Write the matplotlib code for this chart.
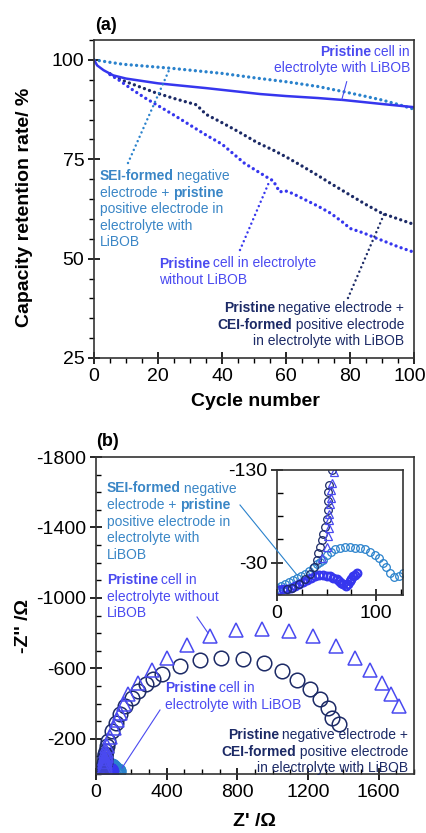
import matplotlib
matplotlib.use("Agg")
import matplotlib.pyplot as plt
from matplotlib.lines import Line2D
from matplotlib.transforms import IdentityTransform, ScaledTranslation
from matplotlib.ticker import FixedLocator, MultipleLocator

plt.rcParams['font.family'] = ['Liberation Sans', 'DejaVu Sans']
plt.rcParams['axes.unicode_minus'] = False

W, H = 427, 833

# ---- (a) capacity retention data ----
cyc_with = [0, 1, 3, 6, 10, 15, 20, 35, 52, 60, 70, 78, 90, 100]
ret_with = [100, 98.6, 97.4, 96.1, 95.3, 94.7, 94.1, 92.9, 91.4, 90.9, 90.4, 89.9, 88.9, 88.1]

cyc_sei = [0, 9, 24, 40, 51, 60, 70, 78, 85, 90, 95, 100]
ret_sei = [100, 98.9, 97.9, 96.6, 95.4, 94.5, 93.3, 92.0, 90.8, 89.9, 88.8, 87.6]

cyc_cei = [5, 7, 10, 14, 19, 25, 32, 35, 40, 45, 51, 56, 60, 65, 70, 74, 80, 85, 90, 95, 100]
ret_cei = [96.5, 95.5, 94.5, 93.3, 91.8, 90.3, 88.7, 86.3, 84.2, 82.0, 79.2, 77.3, 75.6, 73.3,
           70.9, 68.9, 66.0, 63.6, 61.4, 60.0, 58.6]

cyc_without = [5, 8, 12, 16, 20, 25, 30, 35, 40, 47, 52, 55, 56, 58, 60, 62, 65, 70, 74, 78,
               80, 83, 85, 88, 90, 95, 100]
ret_without = [96.3, 94.8, 92.5, 90.4, 88.5, 86.1, 83.6, 81.1, 78.8, 74.0, 71.5, 70.0, 69.6,
               66.8, 67.0, 66.4, 65.2, 63.2, 61.4, 59.0, 57.6, 56.8, 56.2, 55.2, 54.6, 53.0, 51.6]

# ---- (b) Nyquist data (Z', -Z'') ----
zre_cei = [10, 15, 22, 28, 33, 37, 40, 41.7, 43.3, 45, 46.7, 48.3, 50, 51.7, 51.7, 51.7, 52, 55, 62,
           70, 89, 113, 136, 165, 202, 240, 284, 325, 376, 477, 588, 709, 830, 950, 1054, 1139,
           1214, 1267, 1315, 1337, 1375]
zim_cei = [1, 3, 7, 12, 18, 25, 33, 40, 47, 54, 61, 68, 77, 87, 97, 106, 114, 130, 158,
           187, 244, 291, 339, 386, 433, 471, 509, 540, 569, 611, 648, 660, 652, 630, 584, 533,
           480, 424, 372, 319, 282]

zre_wo = [45, 50, 51.7, 52.7, 52.7, 52.7, 53.3, 54, 54, 55, 57.3, 65, 80, 100, 118, 136, 158, 183,
          240, 316, 401, 514, 643, 793, 940, 1091, 1229, 1356, 1466, 1551, 1621, 1672, 1715]
zim_wo = [35, 47, 58.5, 67.8, 75.6, 83, 93, 100, 108, 116, 128, 160, 210, 260, 305, 347, 400, 452,
          518, 588, 660, 732, 783, 815, 826, 811, 783, 726, 656, 588, 518, 452, 386]

zre_sei = [0, 4, 8, 12, 16, 20, 24, 28, 32, 36, 40, 43.5, 46.7, 50, 54, 58.3, 63.3, 68.3, 73.3,
           78.3, 83.3, 88.3, 93.3, 98.3, 102.7, 106.7, 110, 114, 118.3, 123.3, 126.7]
zim_sei = [3, 5, 7, 9, 11, 13, 15.5, 18, 21, 24.5, 28, 31, 32.9, 38.2, 41.7, 44.3, 45.7, 46.4, 46.4,
           46, 45.7, 44.3, 41.7, 38.2, 34.7, 30, 25, 18.7, 14, 15.8, 18.7]

zre_with = [2, 6, 10, 14, 18, 22, 26, 30, 34, 38, 42, 46.7, 50, 53.3, 56.7, 60, 62.5, 65, 67, 69.3,
            71.5, 73.3, 75, 76.7, 78.7, 80.7]
zim_with = [0, 1, 2, 3, 5, 7, 9, 11, 13, 15, 16.5, 16.9, 16, 15, 13.5, 12.3, 10, 8, 6.5, 5.1,
            7, 9.7, 12.5, 15, 17, 18.7]

x_ticks_a = [0, 20, 40, 60, 80, 100]

c_navy = '#1c2a66'
c_violet = '#3636ee'
c_violet_t = '#4a4af0'
c_light = '#2a82cc'
c_light_t = '#3a86c6'


def fr(x0, y0, x1, y1):
    # pixel box (from top-left) -> figure fraction rect
    return [x0 / W, 1 - y1 / H, (x1 - x0) / W, (y1 - y0) / H]


fig = plt.figure(figsize=(W / 100, H / 100), dpi=100)
ax1 = fig.add_axes(fr(94, 40, 414, 358))
ax2 = fig.add_axes(fr(96, 457, 414, 774))
ax3 = fig.add_axes(fr(277, 470, 403, 595))

dots = (0, (0.01, 1.6))
ax1.plot(cyc_sei, ret_sei, color=c_light, lw=2.4, ls=dots, dash_capstyle='round')
ax1.plot(cyc_cei, ret_cei, color=c_navy, lw=2.4, ls=dots, dash_capstyle='round')
ax1.plot(cyc_without, ret_without, color=c_violet, lw=2.4, ls=dots, dash_capstyle='round')
ax1.plot(cyc_with, ret_with, color=c_violet, lw=1.8)
ax1.set_xlim(0, 100)
ax1.set_ylim(25, 105)
ax1.set_xticks(x_ticks_a, [str(v) for v in x_ticks_a])
ax1.xaxis.set_minor_locator(MultipleLocator(5))
ax1.yaxis.set_major_locator(FixedLocator([25, 50, 75, 100]))
ax1.yaxis.set_minor_locator(MultipleLocator(5))
ax1.tick_params(which='major', direction='inout', length=8, width=1.2, labelsize=14, pad=3)
ax1.tick_params(which='minor', direction='out', length=3.5, width=1.0)
last = ax1.get_xticklabels()[-1]
last.set_transform(last.get_transform() + ScaledTranslation(-3 / 72, 0, fig.dpi_scale_trans))

for ax, ms, mew in ((ax2, 10.5, 1.1), (ax3, 5.5, 0.9)):
    ax.plot(zre_sei, [-v for v in zim_sei], 'o', mfc='none', mec=c_light, ms=ms, mew=mew)
    ax.plot(zre_with, [-v for v in zim_with], 'o', mfc='none', mec=c_violet, ms=ms, mew=mew * 1.8)
    ax.plot(zre_cei, [-v for v in zim_cei], 'o', mfc='none', mec=c_navy, ms=ms, mew=mew)
    ax.plot(zre_wo, [-v for v in zim_wo], '^', mfc='none', mec=c_violet_t, ms=ms, mew=mew)

ax2.set_xlim(0, 1800)
ax2.set_ylim(0, -1800)
ax2.xaxis.set_major_locator(FixedLocator([0, 400, 800, 1200, 1600]))
ax2.xaxis.set_minor_locator(MultipleLocator(100))
ax2.yaxis.set_major_locator(FixedLocator([-1800, -1400, -1000, -600, -200]))
ax2.yaxis.set_minor_locator(MultipleLocator(100))
ax2.tick_params(which='major', direction='inout', length=8, width=1.2, labelsize=14, pad=3)
ax2.tick_params(which='minor', direction='in', length=3.5, width=1.0)

ax3.set_xlim(0, 127)
ax3.set_ylim(5, -130)
ax3.xaxis.set_major_locator(FixedLocator([0, 100]))
ax3.xaxis.set_minor_locator(FixedLocator([25, 50, 75, 125]))
ax3.yaxis.set_major_locator(FixedLocator([-130, -30]))
ax3.yaxis.set_minor_locator(FixedLocator([-105, -80, -55, -5]))
ax3.tick_params(which='major', direction='inout', length=8, width=1.1, labelsize=14, pad=3)
ax3.tick_params(which='minor', direction='in', length=4, width=1.0)

for ax in (ax1, ax2, ax3):
    for s in ax.spines.values():
        s.set_linewidth(1.2)
        s.set_color('#333333')

# ---- text helpers (pixel coords from top-left) ----
rend = fig.canvas.get_renderer()


def rich(x, y, lines, color, ha='left', size=10, step=16.6):
    for i, segs in enumerate(lines):
        yy = H - (y + i * step)
        texts, widths = [], []
        for s, b in segs:
            t = fig.text(0, 0, s, fontsize=size, color=color, transform=IdentityTransform(),
                         fontweight='bold' if b else 'normal', ha='left', va='center')
            texts.append(t)
            widths.append(t.get_window_extent(rend).width - (1.0 if b else 0.0))
        x0 = x if ha == 'left' else x - sum(widths)
        for t, w in zip(texts, widths):
            t.set_position((x0, yy))
            x0 += w


def seg(x0, y0, x1, y1, color, lw=1.0, ls='-'):
    fig.add_artist(Line2D([x0, x1], [H - y0, H - y1], color=color, lw=lw, ls=ls,
                          dash_capstyle='round', transform=IdentityTransform()))


def ptext(x, y, s, **kw):
    fig.text(x, H - y, s, transform=IdentityTransform(), **kw)


B, N = True, False
# (a) labels
rich(410, 51.5, [[('Pristine', B), (' cell in', N)], [('electrolyte with LiBOB', N)]],
     c_violet_t, ha='right')
rich(100, 176, [[('SEI-formed', B), (' negative', N)], [('electrode + ', N), ('pristine', B)],
                [('positive electrode in', N)], [('electrolyte with', N)], [('LiBOB', N)]],
     c_light_t)
rich(159, 263.5, [[('Pristine', B), (' cell in electrolyte', N)], [('without LiBOB', N)]],
     c_violet_t)
rich(404, 308, [[('Pristine', B), (' negative electrode +', N)],
                [('CEI-formed', B), (' positive electrode', N)],
                [('in electrolyte with LiBOB', N)]], c_navy, ha='right')

seg(128, 163, 170, 68, c_light, lw=1.8, ls=(0, (0.01, 1.9)))
seg(240, 250, 270, 180, c_violet, lw=1.8, ls=(0, (0.01, 1.9)))
seg(348, 298, 385, 212, c_navy, lw=1.8, ls=(0, (0.01, 1.9)))
seg(346.7, 81.7, 341.7, 100, c_violet_t, lw=0.8)

# (b) labels
rich(107, 488.5, [[('SEI-formed', B), (' negative', N)], [('electrode + ', N), ('pristine', B)],
                  [('positive electrode in', N)], [('electrolyte with', N)], [('LiBOB', N)]],
     c_light_t)
rich(107, 580, [[('Pristine', B), (' cell in', N)], [('electrolyte without', N)], [('LiBOB', N)]],
     c_violet_t)
rich(165, 688.5, [[('Pristine', B), (' cell in', N)], [('electrolyte with LiBOB', N)]], c_violet_t)
rich(408, 735, [[('Pristine', B), (' negative electrode +', N)],
                [('CEI-formed', B), (' positive electrode', N)],
                [('in electrolyte with LiBOB', N)]], c_navy, ha='right')

seg(240, 505, 297, 575, c_light, lw=0.8)
seg(197, 617, 208, 633, c_violet_t, lw=0.8)
seg(160, 710, 122, 768, c_violet_t, lw=0.8)

# panel letters and axis titles
ptext(95, 25, '(a)', fontsize=13, fontweight='bold', ha='left', va='center')
ptext(96, 442, '(b)', fontsize=13, fontweight='bold', ha='left', va='center')
ptext(25, 207, 'Capacity retention rate/ %', fontsize=14, fontweight='bold',
      rotation=90, ha='center', va='center')
ptext(255, 402, 'Cycle number', fontsize=14, fontweight='bold', ha='center', va='center')
ptext(23, 626, "-Z'' /Ω", fontsize=14, fontweight='bold', rotation=90, ha='center', va='center')
ptext(254, 821, "Z' /Ω", fontsize=14, fontweight='bold', ha='center', va='center')

fig.savefig('out.png', dpi=100)
